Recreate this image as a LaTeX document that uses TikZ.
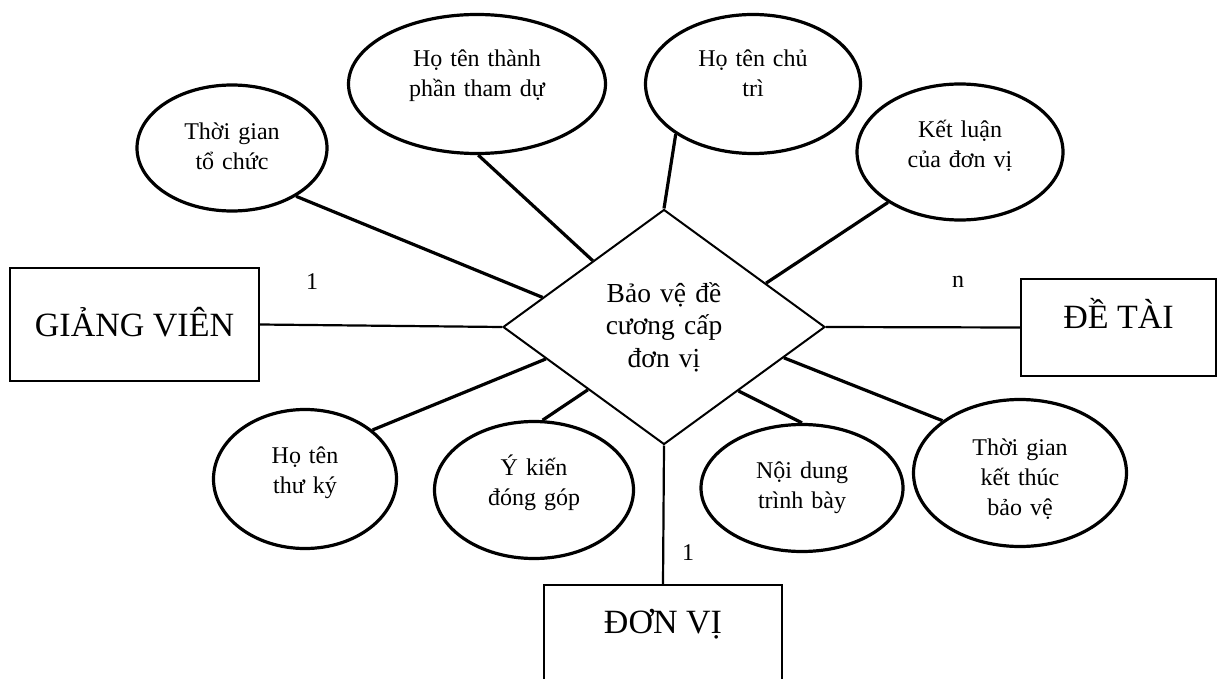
\documentclass[tikz,border=0pt]{standalone}
\usepackage{fontspec}
\setmainfont{Liberation Serif}
\usetikzlibrary{shapes.geometric,calc}
\begin{document}
\begin{tikzpicture}[x=1pt,y=-1pt,
  attr/.style={ellipse, draw, line width=3.2pt, inner sep=0pt, align=center,
    font=\fontsize{24}{30}\selectfont, text height=20pt},
  ent/.style={rectangle, draw, line width=2.2pt, inner sep=0pt, anchor=base,
    font=\fontsize{34}{40}\selectfont},
  rel/.style={diamond, draw, line width=2pt, inner sep=0pt, align=center,
    font=\fontsize{27.5}{32.5}\selectfont},
  alink/.style={line width=3.2pt},
  rlink/.style={line width=2.2pt},
  card/.style={inner sep=0pt, font=\fontsize{24}{30}\selectfont}]
\useasboundingbox (0,0) rectangle (1220,679);
\clip (0,0) rectangle (1220,679);

% relationship
\node[rel, minimum width=322pt, minimum height=235pt, text width=130pt,
  text height=20pt, text depth=70pt] (d) at (664,327) {Bảo vệ đề\\cương cấp\\đơn vị};

% entities
\node[ent, minimum width=249pt, text height=68pt, text depth=45pt] (gv) at (134.5,336) {GIẢNG VIÊN};
\node[ent, minimum width=195pt, text height=49pt, text depth=48pt] (dt) at (1118.5,328) {ĐỀ TÀI};
\node[ent, minimum width=238pt, text height=48pt, text depth=80pt] (dv) at (663,633) {ĐƠN VỊ};

% attributes
\node[attr, minimum width=190pt, minimum height=126pt, text width=110pt, text depth=36pt] (e1) at (232,148) {Thời gian\\tổ chức};
\node[attr, minimum width=257pt, minimum height=139pt, text width=150pt, text depth=54pt] (e2) at (477,84) {Họ tên thành\\phần tham dự};
\node[attr, minimum width=215pt, minimum height=139pt, text width=120pt, text depth=54pt] (e3) at (753,84) {Họ tên chủ\\trì};
\node[attr, minimum width=206pt, minimum height=136pt, text width=120pt, text depth=48pt] (e4) at (960,152) {Kết luận\\của đơn vị};
\node[attr, minimum width=183pt, minimum height=139pt, text width=90pt, text depth=52pt] (e5) at (305,479) {Họ tên\\thư ký};
\node[attr, minimum width=199pt, minimum height=137pt, text width=110pt, text depth=50pt] (e6) at (534,490) {Ý kiến\\đóng góp};
\node[attr, minimum width=202pt, minimum height=127pt, text width=110pt, text depth=40pt] (e7) at (802,488) {Nội dung\\trình bày};
\node[attr, minimum width=213pt, minimum height=147pt, text width=110pt, text depth=56pt] (e8) at (1020,473) {Thời gian\\kết thúc\\bảo vệ};

% cardinalities
\node[card] (c1) at (312,282) {1};
\node[card] (c2) at (958,282) {n};
\node[card] (c3) at (688,553) {1};

% relationship links
\draw[rlink] (gv.east) -- (d.west);
\draw[rlink] (d.east) -- (dt.west);
\draw[rlink] (d.south) -- (dv.north);

% attribute links
\draw[alink] (e1.-37) -- ($(d.north)!0.75!(d.west)$);
\draw[alink] (e2.-89) -- ($(d.north)!0.44!(d.west)$);
\draw[alink] (e3.-147) -- (d.north);
\draw[alink] (e4.-145) -- ($(d.north)!0.63!(d.east)$);
\draw[alink] (e5.36) -- ($(d.west)!0.27!(d.south)$);
\draw[alink] (e6.83) -- ($(d.west)!0.53!(d.south)$);
\draw[alink] (e7.90) -- ($(d.east)!0.54!(d.south)$);
\draw[alink] (e8.146) -- ($(d.east)!0.26!(d.south)$);
\end{tikzpicture}
\end{document}
